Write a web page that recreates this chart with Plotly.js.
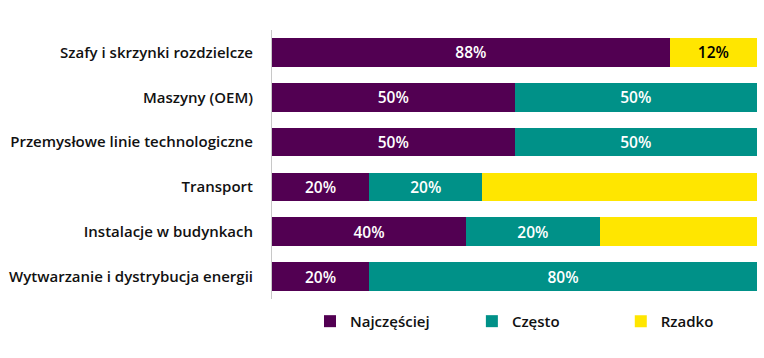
<!DOCTYPE html>
<html>
<head>
<meta charset="utf-8">
<script src="https://cdn.plot.ly/plotly-3.0.1.min.js"></script>
<style>html,body{margin:0;padding:0;background:#fff;}#chart{width:764px;height:358px;}</style>
</head>
<body>
<div id="chart"></div>
<script>
const categories = [
  'Szafy i skrzynki rozdzielcze',
  'Maszyny (OEM)',
  'Przemysłowe linie technologiczne',
  'Transport',
  'Instalacje w budynkach',
  'Wytwarzanie i dystrybucja energii'
];
// bar lengths as drawn in the picture
const najczesciej = [82, 50, 50, 20, 40, 20];
const czesto = [0, 50, 50, 23.4, 27.6, 80];
const rzadko = [18, 0, 0, 56.6, 32.4, 0];
// labels as printed in the picture
const najczesciejLabels = ['88%', '50%', '50%', '20%', '40%', '20%'];
const czestoLabels = ['', '50%', '50%', '20%', '20%', '80%'];
const rzadkoLabels = ['12%', '', '', '', '', ''];
const seriesNames = ['Najczęściej', 'Często', 'Rzadko'];

const FONT = 'Open Sans, sans-serif';
const colors = ['#520052', '#009188', '#ffe600'];

function tr(vals, labels, name, color, txtColor, legendId) {
  return {
    type: 'bar', orientation: 'h', y: categories, x: vals, name: name,
    text: labels, textposition: 'inside', insidetextanchor: 'middle',
    textangle: 0, constraintext: 'none', cliponaxis: false,
    insidetextfont: {family: FONT, size: 15.5, color: txtColor, weight: 600},
    marker: {color: color, line: {width: 0}},
    hoverinfo: 'skip', legend: legendId
  };
}

const data = [
  tr(najczesciej, najczesciejLabels, seriesNames[0], colors[0], '#ffffff', 'legend'),
  tr(czesto, czestoLabels, seriesNames[1], colors[1], '#ffffff', 'legend2'),
  tr(rzadko, rzadkoLabels, seriesNames[2], colors[2], '#000000', 'legend3')
];

function leg() {
  return {
    orientation: 'h', x: 0, xref: 'paper', y: -0.022, yanchor: 'top', xanchor: 'left',
    font: {family: FONT, size: 15, color: '#111', weight: 600},
    itemwidth: 30, bgcolor: 'rgba(0,0,0,0)'
  };
}

const W = 764, H = 358, L = 272, R = 6.7, T = 30, B = 58.6;
const pw = W - L - R;
function lx(px) { return (px - L) / pw; }

const layout = {
  width: W, height: H,
  margin: {l: L, r: R, t: T, b: B},
  paper_bgcolor: '#ffffff', plot_bgcolor: '#ffffff',
  barmode: 'stack', bargap: 0.36,
  showlegend: true,
  legend: Object.assign(leg(), {x: lx(310)}),
  legend2: Object.assign(leg(), {x: lx(472)}),
  legend3: Object.assign(leg(), {x: lx(621)}),
  xaxis: {range: [0, 100], visible: false, fixedrange: true},
  yaxis: {
    autorange: 'reversed', showline: true, linecolor: '#c8c8c8', linewidth: 1,
    showgrid: false, zeroline: false, ticks: '', ticklabelstandoff: 15,
    tickfont: {family: FONT, size: 15, color: '#111', weight: 600}
  },
  font: {family: FONT}
};

Plotly.newPlot('chart', data, layout, {displayModeBar: false, staticPlot: true});
</script>
</body>
</html>
